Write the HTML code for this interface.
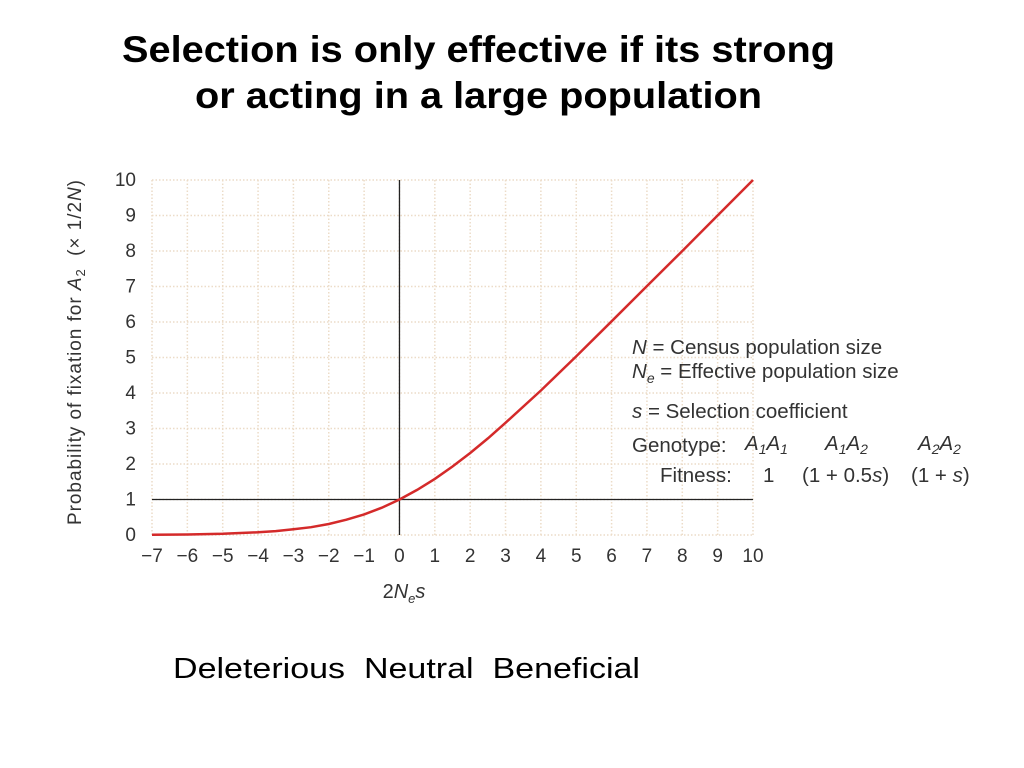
<!DOCTYPE html>
<html><head><meta charset="utf-8"><style>
body{margin:0;background:#fff;width:1024px;height:768px;overflow:hidden;font-family:"Liberation Sans",sans-serif}
svg{position:absolute;left:0;top:0}
text{white-space:pre}
</style></head><body>
<svg id="c" width="1024" height="768">
<text x="122" y="62" textLength="713" lengthAdjust="spacingAndGlyphs" font-size="37" font-weight="bold">Selection is only effective if its strong</text>
<text x="195" y="108" textLength="567" lengthAdjust="spacingAndGlyphs" font-size="37" font-weight="bold">or acting in a large population</text>
<g id="grid"></g>
<g id="axes"></g>
<g id="ticks" font-size="19" fill="#333"></g>
<path id="curve" fill="none" stroke="#d42a2a" stroke-width="2.5"/>
<text x="404" y="598" text-anchor="middle" font-size="20" fill="#333"><tspan>2</tspan><tspan font-style="italic">N</tspan><tspan font-style="italic" font-size="13" dy="5">e</tspan><tspan font-style="italic" dy="-5">s</tspan></text>
<text transform="translate(81,525) rotate(-90)" textLength="345" font-size="19" fill="#333">Probability of fixation for <tspan font-style="italic">A</tspan><tspan font-size="13" dy="4">2</tspan><tspan dy="-4">  (× 1/2</tspan><tspan font-style="italic">N</tspan>)</text>
<g font-size="20.5" fill="#333">
<text x="632" y="354"><tspan font-style="italic">N</tspan> = Census population size</text>
<text x="632" y="378"><tspan font-style="italic">N</tspan><tspan font-style="italic" font-size="14" dy="5">e</tspan><tspan dy="-5"> = Effective population size</tspan></text>
<text x="632" y="418"><tspan font-style="italic">s</tspan> = Selection coefficient</text>
<text x="632" y="452">Genotype:</text>
<text x="745" y="450" font-style="italic">A<tspan font-size="14" dy="4">1</tspan><tspan dy="-4">A</tspan><tspan font-size="14" dy="4">1</tspan></text>
<text x="825" y="450" font-style="italic">A<tspan font-size="14" dy="4">1</tspan><tspan dy="-4">A</tspan><tspan font-size="14" dy="4">2</tspan></text>
<text x="918" y="450" font-style="italic">A<tspan font-size="14" dy="4">2</tspan><tspan dy="-4">A</tspan><tspan font-size="14" dy="4">2</tspan></text>
<text x="660" y="482">Fitness:</text>
<text x="763" y="482">1</text>
<text x="802" y="482">(1 + 0.5<tspan font-style="italic">s</tspan>)</text>
<text x="911" y="482">(1 + <tspan font-style="italic">s</tspan>)</text>
</g>
<text x="173" y="678" textLength="467" lengthAdjust="spacingAndGlyphs" font-size="29">Deleterious  Neutral  Beneficial</text>
</svg>
<script>
const xTicks=[-7,-6,-5,-4,-3,-2,-1,0,1,2,3,4,5,6,7,8,9,10];
const yTicks=[0,1,2,3,4,5,6,7,8,9,10];
const curveX=[-7,-6,-5,-4,-3.5,-3,-2.5,-2,-1.5,-1,-0.5,0,0.5,1,1.5,2,2.5,3,4,5,6,7,8,9,10];
const curveY=[0.006,0.015,0.034,0.075,0.11,0.16,0.22,0.31,0.43,0.58,0.77,1,1.27,1.58,1.93,2.31,2.72,3.16,4.07,5.03,6.02,7.01,8.0,9.0,10.0];
const X=v=>152+(v+7)*(601/17), Y=v=>535-v*35.5;
const ns="http://www.w3.org/2000/svg";
function mk(t,a,p){const e=document.createElementNS(ns,t);for(const k in a)e.setAttribute(k,a[k]);p.appendChild(e);return e;}
const g=document.getElementById('grid'),ax=document.getElementById('axes'),tk=document.getElementById('ticks');
xTicks.forEach(v=>{const l=mk('line',{x1:X(v),x2:X(v),y1:Y(10),y2:Y(0),stroke:'#ecdcc8','stroke-dasharray':'1.5 2','stroke-width':1.5},g);


const t=mk('text',{x:X(v),y:562,'text-anchor':'middle'},tk);t.textContent=v<0?'\u2212'+(-v):v;

});
yTicks.forEach(v=>{const l=mk('line',{x1:X(-7),x2:X(10),y1:Y(v),y2:Y(v),stroke:'#ecdcc8','stroke-dasharray':'1.5 2','stroke-width':1.5},g);


const t=mk('text',{x:136,y:Y(v)+6,'text-anchor':'end'},tk);t.textContent=v;

});
const v0=mk('line',{x1:X(0),x2:X(0),y1:Y(10),y2:Y(0),stroke:'#222','stroke-width':1.3},ax);


const h1=mk('line',{x1:X(-7),x2:X(10),y1:Y(1),y2:Y(1),stroke:'#222','stroke-width':1.3},ax);


document.getElementById('curve').setAttribute('d',curveX.map((x,i)=>(i?'L':'M')+X(x).toFixed(1)+','+Y(curveY[i]).toFixed(1)).join(''));
</script>
</body></html>
